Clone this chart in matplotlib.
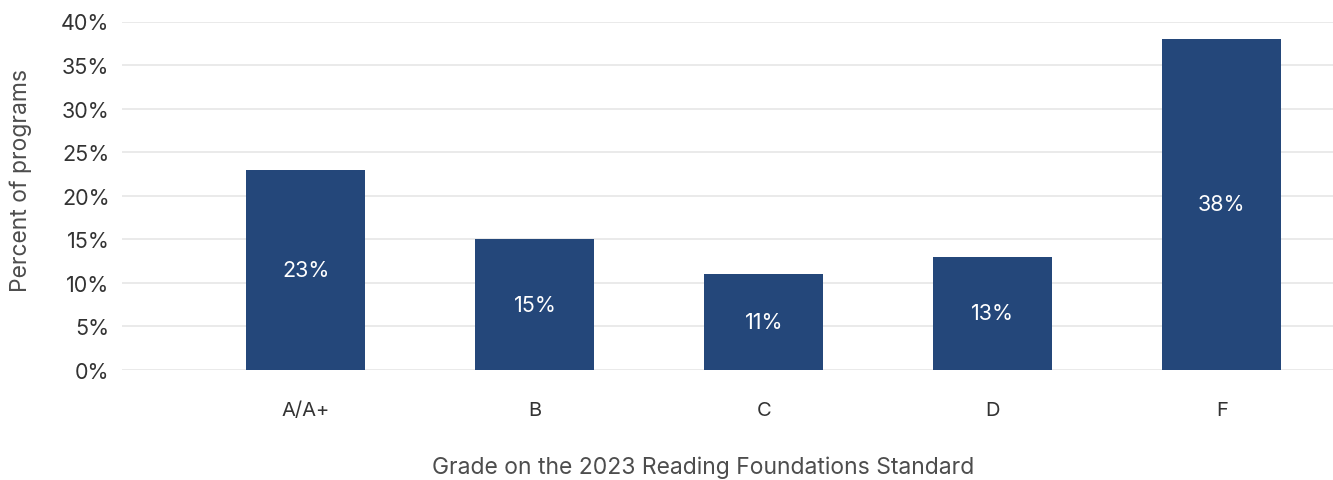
import matplotlib
matplotlib.use("Agg")
import matplotlib.pyplot as plt
from matplotlib.ticker import FuncFormatter

grades = ["A/A+", "B", "C", "D", "F"]
percents = [23, 15, 11, 13, 38]
yticks = [0, 5, 10, 15, 20, 25, 30, 35, 40]

plt.rcParams["font.family"] = ["Inter", "DejaVu Sans"]

W, H = 1333, 481
fig = plt.figure(figsize=(W / 100, H / 100), dpi=100)
# plot area in pixels: left 122, right 1333, top 22, bottom 371
ax = fig.add_axes([122 / W, 1 - 371 / H, (1333 - 122) / W, (371 - 22.5) / H])

bar_color = "#24477a"
x = list(range(len(grades)))
bars = ax.bar(x, percents, width=0.52, color=bar_color, zorder=3)

for b, v in zip(bars, percents):
    ax.text(b.get_x() + b.get_width() / 2, v / 2, f"{v}%", ha="center", va="center",
            color="white", fontsize=15.5, zorder=4)

ax.set_xlim(-0.803, 4.485)
ax.set_ylim(0, 40)
ax.set_yticks(yticks)
ax.yaxis.set_major_formatter(FuncFormatter(lambda v, p: f"{v:.0f}%"))
ax.set_xticks(x)
ax.set_xticklabels(grades)

ax.grid(axis="y", color="#e6e6e6", linewidth=1.2, zorder=0)
for s in ax.spines.values():
    s.set_visible(False)
ax.tick_params(axis="both", length=0, colors="#333333")
ax.tick_params(axis="x", pad=22, labelsize=14.5)
ax.tick_params(axis="y", pad=9, labelsize=15.5)

ax.set_xlabel("Grade on the 2023 Reading Foundations Standard", fontsize=16.5,
              color="#4d4d4d")
ax.xaxis.set_label_coords(0.48, -0.245)
ax.set_ylabel("Percent of programs", fontsize=16.5, color="#4d4d4d")
ax.yaxis.set_label_coords(-0.074, 0.547)

fig.savefig("out.png", dpi=100)
